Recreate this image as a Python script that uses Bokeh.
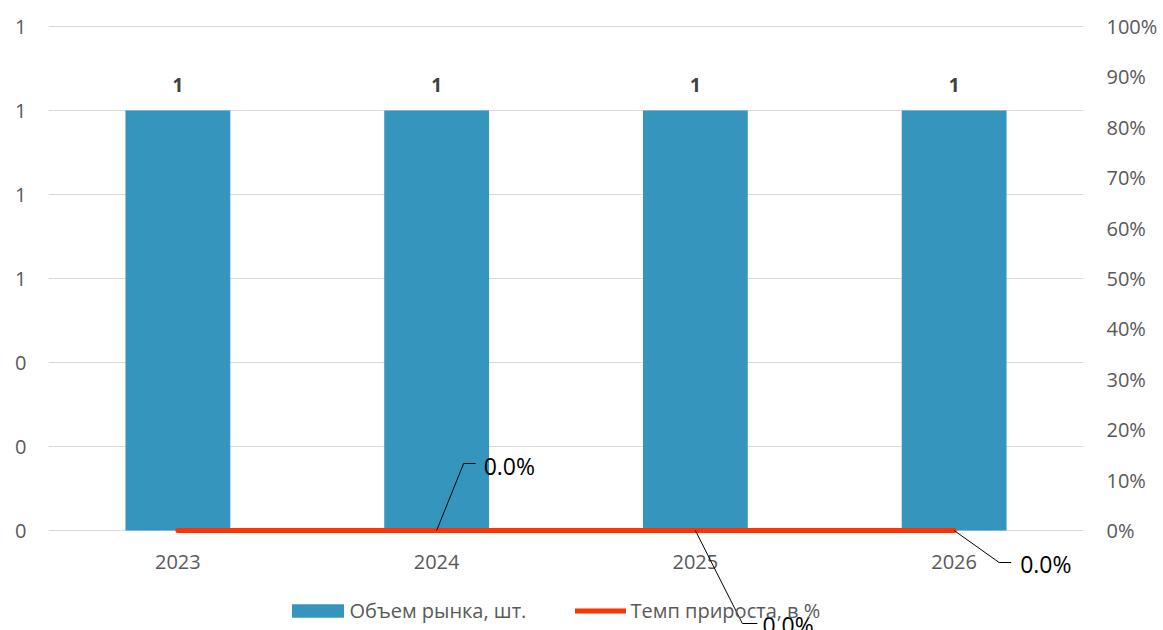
from bokeh.plotting import figure
from bokeh.models import (Range1d, LinearAxis, FixedTicker, PrintfTickFormatter,
                          NumeralTickFormatter, Legend, LegendItem, Label, Arrow)
from bokeh.embed import file_html
from bokeh.resources import INLINE
from bokeh.core.properties import value

# ---- data ----
years = ["2023", "2024", "2025", "2026"]
volume = [1, 1, 1, 1]
growth = [0.0, 0.0, 0.0, 0.0]
left_ticks = [0, 0.2, 0.4, 0.6, 0.8, 1.0, 1.2]
right_ticks = [0, 0.1, 0.2, 0.3, 0.4, 0.5, 0.6, 0.7, 0.8, 0.9, 1.0]
volume_name = "Объем рынка, шт."
growth_name = "Темп прироста, в %"
labelled = [1, 2, 3]

# ---- style / layout ----
FONT = "Open Sans"
TICK_COLOR = "#595959"
BAR_COLOR = "#3595BC"
LINE_COLOR = "#FF3300"
W, H = 1163, 630
ML, MR, MT, MB = 48, 80, 24, 0
FW = W - ML - MR            # frame width
FH = H - MT - MB            # frame height
PLOT_H = 504                # pixels between 0 and top tick
TOP_PAD = 2                 # px above top tick inside frame
BELOW = FH - PLOT_H - TOP_PAD   # px of frame below the zero line

lspan = left_ticks[-1] - left_ticks[0]
rspan = right_ticks[-1] - right_ticks[0]
lpx = lspan / PLOT_H
rpx = rspan / PLOT_H

xs = list(range(len(years)))

p = figure(width=W, height=H,
           x_range=Range1d(-0.5, len(years) - 0.5),
           y_range=Range1d(left_ticks[0] - BELOW * lpx, left_ticks[-1] + TOP_PAD * lpx),
           output_backend="svg", toolbar_location=None,
           min_border_left=ML, min_border_right=MR,
           min_border_top=MT, min_border_bottom=MB)
p.extra_y_ranges = {"pct": Range1d(right_ticks[0] - BELOW * rpx,
                                   right_ticks[-1] + TOP_PAD * rpx)}
p.outline_line_color = None
p.background_fill_color = "white"
p.border_fill_color = "white"

# bars
r_bar = p.vbar(x=xs, top=volume, width=0.405, fill_color=BAR_COLOR, line_color=None)
# growth line
r_line = p.line(xs, growth, y_range_name="pct", line_color=LINE_COLOR,
                line_width=5, line_cap="round")

# bar value labels
p.text(x=xs, y=volume, text=[f"{v:.0f}" for v in volume],
       text_align="center", text_baseline="middle", y_offset=-26,
       text_font=value(FONT), text_font_style="bold", text_font_size="19px",
       text_color="#404040")

# axes
xt = FixedTicker(ticks=xs)
p.xaxis.ticker = xt
p.xaxis.major_label_overrides = {i: y for i, y in enumerate(years)}
p.xaxis.fixed_location = 0
lt = FixedTicker(ticks=left_ticks)
p.yaxis.ticker = lt
p.yaxis.formatter = PrintfTickFormatter(format="%.0f")
p.ygrid.ticker = lt
p.xgrid.visible = False
p.ygrid.grid_line_color = "#D9D9D9"
p.ygrid.grid_line_width = 1

rax = LinearAxis(y_range_name="pct", ticker=FixedTicker(ticks=right_ticks),
                 formatter=NumeralTickFormatter(format="0%"))
p.add_layout(rax, "right")

for ax in [p.xaxis[0], p.yaxis[0], rax]:
    ax.axis_line_color = None
    ax.major_tick_line_color = None
    ax.minor_tick_line_color = None
    ax.major_tick_in = 0
    ax.major_tick_out = 0
    ax.minor_tick_in = 0
    ax.minor_tick_out = 0
    ax.major_label_text_font = FONT
    ax.major_label_text_font_size = "20px"
    ax.major_label_text_color = TICK_COLOR
p.xaxis[0].major_label_standoff = 24
p.yaxis[0].major_label_standoff = 22
rax.major_label_standoff = 23

# growth data labels with leader lines (offsets in px, y up)
XPX = len(years) / FW
offsets = [(27, 67, 39, 47, 65), (47, -93, 62, 67, -94), (45, -32, 57, 66, -33)]
for i, (ex, ey, endx, tx, ty) in zip(labelled, offsets):
    x0, y0 = xs[i], growth[i]
    xe, ye = x0 + ex * XPX, y0 + ey * rpx
    p.add_layout(Arrow(end=None, x_start=x0, y_start=y0, x_end=xe, y_end=ye,
                       y_range_name="pct", line_color="black", line_width=1))
    p.add_layout(Arrow(end=None, x_start=xe, y_start=ye, x_end=x0 + endx * XPX, y_end=ye,
                       y_range_name="pct", line_color="black", line_width=1))
    p.add_layout(Label(x=x0 + tx * XPX, y=y0 + ty * rpx, y_range_name="pct",
                       text=f"{growth[i] * 100:.1f}%", text_align="left",
                       text_baseline="middle", text_font=FONT,
                       text_font_size="23px", text_color="black"))

# legends (inside the frame's lower strip)
common = dict(orientation="horizontal", padding=0, margin=0, border_line_color=None,
              background_fill_alpha=0, label_text_font=FONT,
              label_text_font_size="20px", label_text_color=TICK_COLOR)
LEG_Y = 6
leg1 = Legend(items=[LegendItem(label=volume_name, renderers=[r_bar])],
              location=(284.5 - ML, LEG_Y), glyph_width=65, glyph_height=17,
              label_standoff=0, **common)
leg2 = Legend(items=[LegendItem(label=growth_name, renderers=[r_line])],
              location=(574.5 - ML, LEG_Y), glyph_width=51, glyph_height=17,
              label_standoff=5, **common)
p.add_layout(leg1)
p.add_layout(leg2)

open("out.html", "w").write(file_html(p, INLINE))
